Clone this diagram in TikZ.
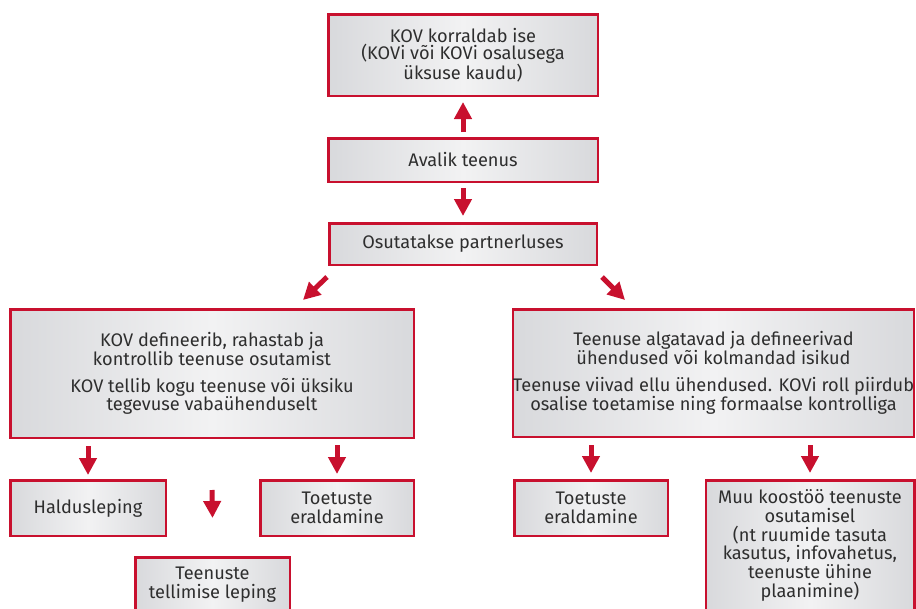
\documentclass[tikz,border=0pt]{standalone}
\usepackage{fontspec}
\setmainfont{Fira Sans}
\usetikzlibrary{arrows.meta,calc}
\definecolor{punane}{HTML}{C8102E}
\definecolor{hallserv}{HTML}{D8D9DC}
\definecolor{hallkesk}{HTML}{F2F2F3}
\definecolor{tekst}{HTML}{2E2E2E}

\begin{document}
\begin{tikzpicture}[x=1pt,y=-1pt,
    kast/.style={draw=punane,line width=2.5pt,left color=hallserv,right color=hallserv,middle color=hallkesk,text=tekst,align=center,inner sep=0pt,font=\fontsize{18.2}{18.8}\selectfont},
    nool/.style={draw=punane,line width=5pt,-{Triangle[length=17pt,width=17pt]}}]
    \useasboundingbox (0,0) rectangle (916,608);
    % top chain
    \node[kast,minimum width=269.5pt,minimum height=81.5pt,font=\fontsize{18.2}{17.2}\selectfont] (korraldab) at (463,55) {KOV korraldab ise\\(KOVi või KOVi osalusega\\üksuse kaudu)};
    \node[kast,minimum width=269.5pt,minimum height=43.5pt] (avalik) at (463,160) {Avalik teenus};
    \node[kast,minimum width=267.5pt,minimum height=41.5pt] (partner) at (463,244) {Osutatakse partnerluses};
    % two main branches
    \node[kast,minimum width=403.5pt,minimum height=128.5pt] (kovdef) at (212,373.5) {KOV defineerib, rahastab ja\\kontrollib teenuse osutamist\\[8pt]KOV tellib kogu teenuse või üksiku\\tegevuse vabaühenduselt};
    \node[kast,minimum width=398.5pt,minimum height=127.5pt] (algatavad) at (713.5,373) {Teenuse algatavad ja defineerivad\\ühendused või kolmandad isikud\\[8pt]Teenuse viivad ellu ühendused. KOVi roll piirdub\\osalise toetamise ning formaalse kontrolliga};
    % leaves
    \node[kast,minimum width=155.5pt,minimum height=55.5pt] (haldus) at (88,508) {Haldusleping};
    \node[kast,minimum width=153.5pt,minimum height=55.5pt] (toetusL) at (337,508) {Toetuste\\eraldamine};
    \node[kast,minimum width=154.5pt,minimum height=55.5pt] (tellimine) at (212.5,585) {Teenuste\\tellimise leping};
    \node[kast,minimum width=153.5pt,minimum height=55.5pt] (toetusR) at (591,508) {Toetuste\\eraldamine};
    \node[kast,minimum width=208.5pt,minimum height=130.5pt] (muu) at (810,545.5) {Muu koostöö teenuste\\osutamisel\\(nt ruumide tasuta\\kasutus, infovahetus,\\teenuste ühine\\plaanimine)};
    % arrows
    \draw[nool,shorten <=5pt,shorten >=5pt] (avalik.north) -- (korraldab.south);
    \draw[nool,shorten <=5pt,shorten >=6pt] (avalik.south) -- (partner.south |- partner.north);
    \draw[nool] ($(partner.south west)+(-1,11)$) -- ++(-24,23);
    \draw[nool] ($(partner.south east)+(4,11)$) -- ++(23,23);
    \draw[nool,shorten <=7pt,shorten >=4pt] (kovdef.south -| haldus.north) -- (haldus.north);
    \draw[nool,shorten <=6pt,shorten >=5pt] (kovdef.south -| toetusL.north) -- (toetusL.north);
    \draw[nool] ($(kovdef.south)+(0,51)$) -- ($(tellimine.north)+(0,-38)$);
    \draw[nool,shorten <=7pt,shorten >=6pt] (algatavad.south -| toetusR.north) -- (toetusR.north);
    \draw[nool,shorten <=7pt,shorten >=6pt] (algatavad.south -| muu.north) -- (muu.north);
\end{tikzpicture}
\end{document}
